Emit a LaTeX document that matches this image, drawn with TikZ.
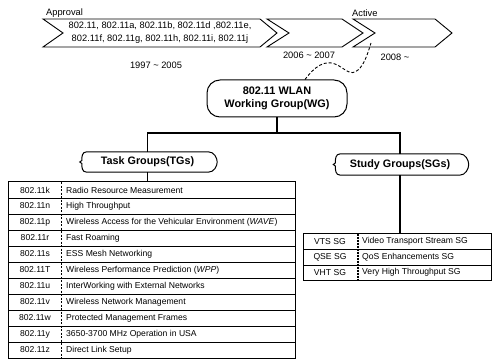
\documentclass[tikz,border=0pt]{standalone}
\usepackage{fontspec}
\setmainfont{Liberation Sans}
\begin{document}
\begin{tikzpicture}[x=1pt,y=-1pt,
  chev/.style={draw=black, line width=0.9pt, line join=miter},
  lbl/.style={font=\fontsize{9.3}{11}\selectfont, inner sep=0pt},
  head/.style={font=\bfseries\fontsize{10.8}{12}\selectfont, inner sep=0pt},
  wgbox/.style={draw=black, line width=1pt, rounded corners=13pt, minimum width=140pt,
    minimum height=37pt, align=center, font=\bfseries\fontsize{10.9}{12.5}\selectfont, inner sep=0pt},
  link/.style={draw=black, line width=1.1pt},
  cell/.style={font=\fontsize{8.6}{10}\selectfont, inner sep=0pt},
  grid/.style={draw=black, line width=0.6pt},
]
\useasboundingbox (0,0) rectangle (494,358);

% timeline chevrons
\draw[chev] (43,19) -- (260,19) -- (277,33) -- (260,47) -- (43,47) -- (63,33) -- cycle;
\draw[chev] (267,19) -- (342,19) -- (363,33) -- (342,47) -- (267,47) -- (289,33) -- cycle;
\draw[chev] (353,19) -- (435,19) -- (452,33) -- (435,47) -- (353,47) -- (375,33) -- cycle;

\node[lbl, anchor=west] (approval) at (46,13) {Approval};
\node[lbl, anchor=west] (active) at (352,13) {Active};
\node[lbl, align=center, font=\fontsize{9.3}{12.8}\selectfont] (std) at (160,32.5)
  {802.11, 802.11a, 802.11b, 802.11d ,802.11e,\\802.11f, 802.11g, 802.11h, 802.11i, 802.11j};
\node[lbl] (y1) at (156,65) {1997 \textasciitilde{} 2005};
\node[lbl] (y2) at (309,55) {2006 \textasciitilde{} 2007};
\node[lbl] (y3) at (395,57) {2008 \textasciitilde};
\coordinate (now) at (371,43);

% working group
\node[wgbox] (wg) at (277,98.5) {802.11 WLAN\\Working Group(WG)};
\draw[line width=0.9pt, densely dashed] ([xshift=28pt]wg.north)
  .. controls (315,66) and (325,60) .. (335,64)
  .. controls (345,68) and (350,77) .. (358,70)
  .. controls (365,64) and (368,52) .. (now);

% group headers with curly sides
\newcommand\curlybox[1]{%
  \draw[line width=1pt] (#1.north west) -- (#1.north east)
    .. controls ([xshift=6pt]#1.north east) and ([shift={(9,-4)}]#1.east) .. ([xshift=9pt]#1.east)
    .. controls ([shift={(9,4)}]#1.east) and ([xshift=6pt]#1.south east) .. (#1.south east)
    -- (#1.south west)
    .. controls ([xshift=-5pt]#1.south west) and ([shift={(-5,5)}]#1.west) .. ([shift={(-5,1.5)}]#1.west)
    -- ([xshift=-7pt]#1.west) -- ([shift={(-5,-1.5)}]#1.west)
    .. controls ([shift={(-5,-5)}]#1.west) and ([xshift=-5pt]#1.north west) .. cycle;}
\node[head, minimum width=121pt, minimum height=20pt] (tg) at (147.5,162) {Task Groups(TGs)};
\node[head, minimum width=119pt, minimum height=21pt] (sg) at (400,164.5) {Study Groups(SGs)};
\curlybox{tg}
\curlybox{sg}

\coordinate (split) at (277,133);
\draw[link] (wg.south) -- (split);
\draw[link] (split) -| (tg.north);
\draw[link] (split) -| (sg.north);

% task group table
\node[inner sep=0pt, minimum width=286pt, minimum height=176pt] (tgtab) at (152,270) {};
\draw[link] (tg.south) -- (tgtab.north -| tg.south);
\foreach \k in {1,...,10} \draw[grid] (9,{182+16*\k}) -- (295,{182+16*\k});
\draw[line width=0.5pt, dashed, dash pattern=on 2pt off 1.5pt] (61,182) -- (61,358);
\draw[line width=0.9pt] (tgtab.south west) rectangle (tgtab.north east);
\foreach \code/\desc [count=\i] in {
  802.11k/Radio Resource Measurement,
  802.11n/High Throughput,
  802.11p/{Wireless Access for the Vehicular Environment (\textit{WAVE})},
  802.11r/Fast Roaming,
  802.11s/ESS Mesh Networking,
  802.11T/{Wireless Performance Prediction (\textit{WPP})},
  802.11u/InterWorking with External Networks,
  802.11v/Wireless Network Management,
  802.11w/Protected Management Frames,
  802.11y/3650-3700 MHz Operation in USA,
  802.11z/Direct Link Setup}
{
  \node[cell] (tgc\i) at (35,{174+16*\i}) {\code};
  \node[cell, anchor=west] (tgd\i) at (66,{174+16*\i}) {\desc};
}

% study group table
\node[inner sep=0pt, minimum width=187pt, minimum height=47pt] (sgtab) at (397.5,257) {};
\draw[link] (sg.south) -- (sgtab.north -| sg.south);
\foreach \k in {1,2} \draw[grid] (304,{233.5+15.7*\k}) -- (491,{233.5+15.7*\k});
\draw[line width=1.6pt, dash pattern=on 2pt off 1pt] (358,233.5) -- (358,280.5);
\draw[line width=0.9pt] (sgtab.south west) rectangle (sgtab.north east);
\foreach \code/\desc [count=\i] in {
  VTS SG/Video Transport Stream SG,
  QSE SG/QoS Enhancements SG,
  VHT SG/Very High Throughput SG}
{
  \node[cell] (sgc\i) at (330,{233.5+15.7*\i-7.85}) {\code};
  \node[cell, anchor=west] (sgd\i) at (362,{233.5+15.7*\i-7.85}) {\desc};
}
\end{tikzpicture}
\end{document}
